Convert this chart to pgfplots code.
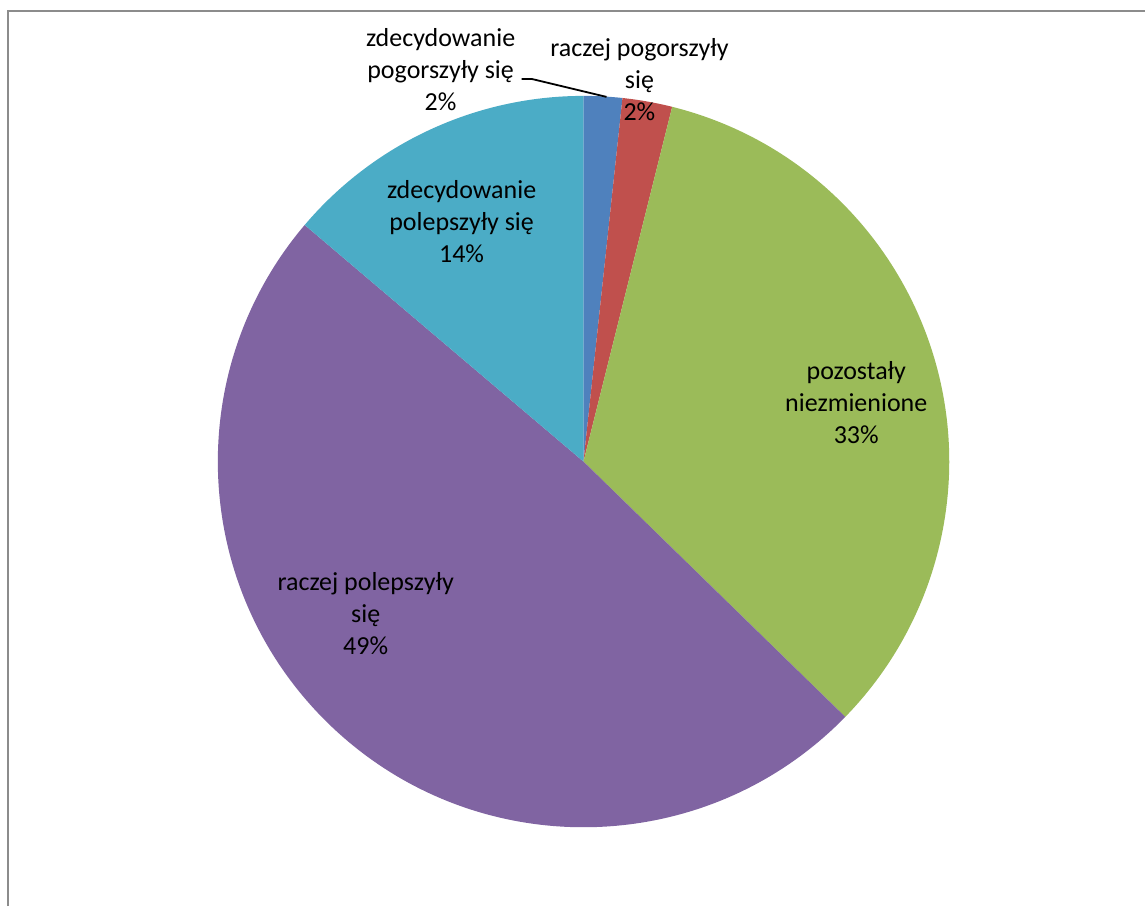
\documentclass[border=0pt]{standalone}
\usepackage{pgfplots}
\pgfplotsset{compat=1.18}
\usepackage{fontspec}
\setmainfont{Carlito}
\definecolor{cA}{HTML}{4F81BD}
\definecolor{cB}{HTML}{C0504D}
\definecolor{cC}{HTML}{9BBB59}
\definecolor{cD}{HTML}{8064A2}
\definecolor{cE}{HTML}{4BACC6}
\begin{document}
\begin{tikzpicture}
\begin{axis}[
  width=573pt, height=453.5pt, scale only axis,
  xmin=0, xmax=1146, ymin=0, ymax=907,
  hide axis, clip=false,
]
\addplot[draw=none] coordinates {(0,0) (1146,907)};
\pgfplotsextra{
  \path[fill=white] (axis cs:0,0) rectangle (axis cs:1146,907);
  \draw[color=gray!90, line width=1pt] (axis cs:8,0) -- (axis cs:8,895.5) -- (axis cs:1146,895.5);
  \gdef\cum{0}
  \foreach \v/\c in {1.7/cA, 2.2/cB, 33.4/cC, 48.9/cD, 13.8/cE}{
    \pgfmathsetmacro\a{90-3.6*\cum}
    \pgfmathsetmacro\b{90-3.6*(\cum+\v)}
    \pgfmathsetmacro\px{584+366*cos(\a)}
    \pgfmathsetmacro\py{445+366*sin(\a)}
    \fill[\c] (axis cs:584,445) -- (axis cs:\px,\py) arc[start angle=\a, end angle=\b, radius=183pt] -- cycle;
    \pgfmathsetmacro\n{\cum+\v}
    \global\let\cum\n
  }
  \draw[black, line width=0.9pt] (axis cs:522,828) -- (axis cs:532,828) -- (axis cs:607,810);
  \node[align=center, font=\fontsize{13}{16}\selectfont] at (axis cs:441,837) {zdecydowanie\\pogorszyły się\\2\%};
  \node[align=center, font=\fontsize{13}{16}\selectfont] at (axis cs:640,827) {raczej pogorszyły\\się\\2\%};
  \node[align=center, font=\fontsize{13}{16}\selectfont] at (axis cs:857,504) {pozostały\\niezmienione\\33\%};
  \node[align=center, font=\fontsize{13}{16}\selectfont] at (axis cs:366,293) {raczej polepszyły\\się\\49\%};
  \node[align=center, font=\fontsize{13}{16}\selectfont] at (axis cs:462,685) {zdecydowanie\\polepszyły się\\14\%};
}
\end{axis}
\end{tikzpicture}
\end{document}
